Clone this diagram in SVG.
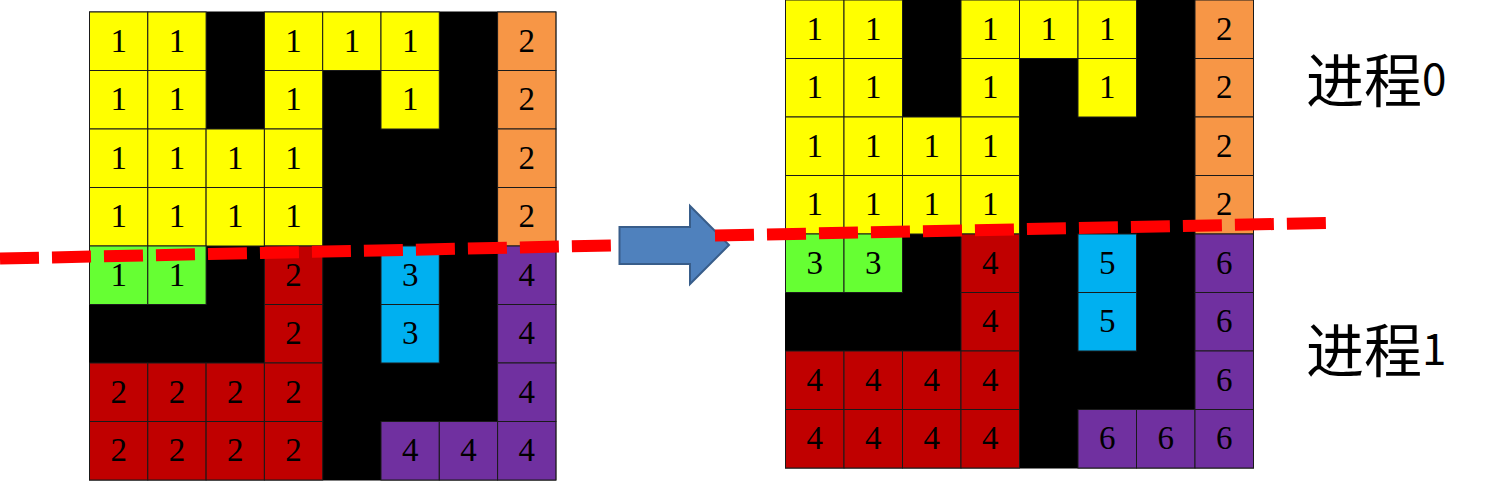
<svg xmlns="http://www.w3.org/2000/svg" width="1500" height="481" viewBox="0 0 1500 481">
<style>
.c rect{stroke:#1a1a1a;stroke-width:1}
.c text{font-family:"Liberation Serif",serif;font-size:33px;text-anchor:middle;fill:#000}
.Y{fill:#FFFF00}.O{fill:#F79646}.G{fill:#66FF33}.R{fill:#C00000}.B{fill:#00B0F0}.P{fill:#7030A0}
.bg{fill:#000;stroke:#000;stroke-width:1}
.cut{stroke:#FF0000;stroke-width:12;stroke-dasharray:39 13;fill:none}
.lbl{font-family:"Noto Sans CJK SC",sans-serif;font-size:58px;fill:#000}
.num{font-family:"Noto Sans CJK SC",sans-serif;fill:#000}
</style>
<g id="grid-left">
<rect class="bg" x="89.5" y="12" width="466.4" height="468"/>
<g id="L00" class="c" transform="translate(89.5,12)"><rect class="Y" width="58.3" height="58.5"/><text x="29.2" y="39.5">1</text></g>
<g id="L01" class="c" transform="translate(147.8,12)"><rect class="Y" width="58.3" height="58.5"/><text x="29.2" y="39.5">1</text></g>
<g id="L03" class="c" transform="translate(264.4,12)"><rect class="Y" width="58.3" height="58.5"/><text x="29.2" y="39.5">1</text></g>
<g id="L04" class="c" transform="translate(322.7,12)"><rect class="Y" width="58.3" height="58.5"/><text x="29.2" y="39.5">1</text></g>
<g id="L05" class="c" transform="translate(381,12)"><rect class="Y" width="58.3" height="58.5"/><text x="29.2" y="39.5">1</text></g>
<g id="L07" class="c" transform="translate(497.6,12)"><rect class="O" width="58.3" height="58.5"/><text x="29.2" y="39.5">2</text></g>
<g id="L10" class="c" transform="translate(89.5,70.5)"><rect class="Y" width="58.3" height="58.5"/><text x="29.2" y="39.5">1</text></g>
<g id="L11" class="c" transform="translate(147.8,70.5)"><rect class="Y" width="58.3" height="58.5"/><text x="29.2" y="39.5">1</text></g>
<g id="L13" class="c" transform="translate(264.4,70.5)"><rect class="Y" width="58.3" height="58.5"/><text x="29.2" y="39.5">1</text></g>
<g id="L15" class="c" transform="translate(381,70.5)"><rect class="Y" width="58.3" height="58.5"/><text x="29.2" y="39.5">1</text></g>
<g id="L17" class="c" transform="translate(497.6,70.5)"><rect class="O" width="58.3" height="58.5"/><text x="29.2" y="39.5">2</text></g>
<g id="L20" class="c" transform="translate(89.5,129)"><rect class="Y" width="58.3" height="58.5"/><text x="29.2" y="39.5">1</text></g>
<g id="L21" class="c" transform="translate(147.8,129)"><rect class="Y" width="58.3" height="58.5"/><text x="29.2" y="39.5">1</text></g>
<g id="L22" class="c" transform="translate(206.1,129)"><rect class="Y" width="58.3" height="58.5"/><text x="29.2" y="39.5">1</text></g>
<g id="L23" class="c" transform="translate(264.4,129)"><rect class="Y" width="58.3" height="58.5"/><text x="29.2" y="39.5">1</text></g>
<g id="L27" class="c" transform="translate(497.6,129)"><rect class="O" width="58.3" height="58.5"/><text x="29.2" y="39.5">2</text></g>
<g id="L30" class="c" transform="translate(89.5,187.5)"><rect class="Y" width="58.3" height="58.5"/><text x="29.2" y="39.5">1</text></g>
<g id="L31" class="c" transform="translate(147.8,187.5)"><rect class="Y" width="58.3" height="58.5"/><text x="29.2" y="39.5">1</text></g>
<g id="L32" class="c" transform="translate(206.1,187.5)"><rect class="Y" width="58.3" height="58.5"/><text x="29.2" y="39.5">1</text></g>
<g id="L33" class="c" transform="translate(264.4,187.5)"><rect class="Y" width="58.3" height="58.5"/><text x="29.2" y="39.5">1</text></g>
<g id="L37" class="c" transform="translate(497.6,187.5)"><rect class="O" width="58.3" height="58.5"/><text x="29.2" y="39.5">2</text></g>
<g id="L40" class="c" transform="translate(89.5,246)"><rect class="G" width="58.3" height="58.5"/><text x="29.2" y="39.5">1</text></g>
<g id="L41" class="c" transform="translate(147.8,246)"><rect class="G" width="58.3" height="58.5"/><text x="29.2" y="39.5">1</text></g>
<g id="L43" class="c" transform="translate(264.4,246)"><rect class="R" width="58.3" height="58.5"/><text x="29.2" y="39.5">2</text></g>
<g id="L45" class="c" transform="translate(381,246)"><rect class="B" width="58.3" height="58.5"/><text x="29.2" y="39.5">3</text></g>
<g id="L47" class="c" transform="translate(497.6,246)"><rect class="P" width="58.3" height="58.5"/><text x="29.2" y="39.5">4</text></g>
<g id="L53" class="c" transform="translate(264.4,304.5)"><rect class="R" width="58.3" height="58.5"/><text x="29.2" y="39.5">2</text></g>
<g id="L55" class="c" transform="translate(381,304.5)"><rect class="B" width="58.3" height="58.5"/><text x="29.2" y="39.5">3</text></g>
<g id="L57" class="c" transform="translate(497.6,304.5)"><rect class="P" width="58.3" height="58.5"/><text x="29.2" y="39.5">4</text></g>
<g id="L60" class="c" transform="translate(89.5,363)"><rect class="R" width="58.3" height="58.5"/><text x="29.2" y="39.5">2</text></g>
<g id="L61" class="c" transform="translate(147.8,363)"><rect class="R" width="58.3" height="58.5"/><text x="29.2" y="39.5">2</text></g>
<g id="L62" class="c" transform="translate(206.1,363)"><rect class="R" width="58.3" height="58.5"/><text x="29.2" y="39.5">2</text></g>
<g id="L63" class="c" transform="translate(264.4,363)"><rect class="R" width="58.3" height="58.5"/><text x="29.2" y="39.5">2</text></g>
<g id="L67" class="c" transform="translate(497.6,363)"><rect class="P" width="58.3" height="58.5"/><text x="29.2" y="39.5">4</text></g>
<g id="L70" class="c" transform="translate(89.5,421.5)"><rect class="R" width="58.3" height="58.5"/><text x="29.2" y="39.5">2</text></g>
<g id="L71" class="c" transform="translate(147.8,421.5)"><rect class="R" width="58.3" height="58.5"/><text x="29.2" y="39.5">2</text></g>
<g id="L72" class="c" transform="translate(206.1,421.5)"><rect class="R" width="58.3" height="58.5"/><text x="29.2" y="39.5">2</text></g>
<g id="L73" class="c" transform="translate(264.4,421.5)"><rect class="R" width="58.3" height="58.5"/><text x="29.2" y="39.5">2</text></g>
<g id="L75" class="c" transform="translate(381,421.5)"><rect class="P" width="58.3" height="58.5"/><text x="29.2" y="39.5">4</text></g>
<g id="L76" class="c" transform="translate(439.3,421.5)"><rect class="P" width="58.3" height="58.5"/><text x="29.2" y="39.5">4</text></g>
<g id="L77" class="c" transform="translate(497.6,421.5)"><rect class="P" width="58.3" height="58.5"/><text x="29.2" y="39.5">4</text></g>
</g>
<g id="grid-right">
<rect class="bg" x="785.5" y="0" width="468" height="468"/>
<g id="R00" class="c" transform="translate(785.5,0)"><rect class="Y" width="58.5" height="58.5"/><text x="29.2" y="39.5">1</text></g>
<g id="R01" class="c" transform="translate(844,0)"><rect class="Y" width="58.5" height="58.5"/><text x="29.2" y="39.5">1</text></g>
<g id="R03" class="c" transform="translate(961,0)"><rect class="Y" width="58.5" height="58.5"/><text x="29.2" y="39.5">1</text></g>
<g id="R04" class="c" transform="translate(1019.5,0)"><rect class="Y" width="58.5" height="58.5"/><text x="29.2" y="39.5">1</text></g>
<g id="R05" class="c" transform="translate(1078,0)"><rect class="Y" width="58.5" height="58.5"/><text x="29.2" y="39.5">1</text></g>
<g id="R07" class="c" transform="translate(1195,0)"><rect class="O" width="58.5" height="58.5"/><text x="29.2" y="39.5">2</text></g>
<g id="R10" class="c" transform="translate(785.5,58.5)"><rect class="Y" width="58.5" height="58.5"/><text x="29.2" y="39.5">1</text></g>
<g id="R11" class="c" transform="translate(844,58.5)"><rect class="Y" width="58.5" height="58.5"/><text x="29.2" y="39.5">1</text></g>
<g id="R13" class="c" transform="translate(961,58.5)"><rect class="Y" width="58.5" height="58.5"/><text x="29.2" y="39.5">1</text></g>
<g id="R15" class="c" transform="translate(1078,58.5)"><rect class="Y" width="58.5" height="58.5"/><text x="29.2" y="39.5">1</text></g>
<g id="R17" class="c" transform="translate(1195,58.5)"><rect class="O" width="58.5" height="58.5"/><text x="29.2" y="39.5">2</text></g>
<g id="R20" class="c" transform="translate(785.5,117)"><rect class="Y" width="58.5" height="58.5"/><text x="29.2" y="39.5">1</text></g>
<g id="R21" class="c" transform="translate(844,117)"><rect class="Y" width="58.5" height="58.5"/><text x="29.2" y="39.5">1</text></g>
<g id="R22" class="c" transform="translate(902.5,117)"><rect class="Y" width="58.5" height="58.5"/><text x="29.2" y="39.5">1</text></g>
<g id="R23" class="c" transform="translate(961,117)"><rect class="Y" width="58.5" height="58.5"/><text x="29.2" y="39.5">1</text></g>
<g id="R27" class="c" transform="translate(1195,117)"><rect class="O" width="58.5" height="58.5"/><text x="29.2" y="39.5">2</text></g>
<g id="R30" class="c" transform="translate(785.5,175.5)"><rect class="Y" width="58.5" height="58.5"/><text x="29.2" y="39.5">1</text></g>
<g id="R31" class="c" transform="translate(844,175.5)"><rect class="Y" width="58.5" height="58.5"/><text x="29.2" y="39.5">1</text></g>
<g id="R32" class="c" transform="translate(902.5,175.5)"><rect class="Y" width="58.5" height="58.5"/><text x="29.2" y="39.5">1</text></g>
<g id="R33" class="c" transform="translate(961,175.5)"><rect class="Y" width="58.5" height="58.5"/><text x="29.2" y="39.5">1</text></g>
<g id="R37" class="c" transform="translate(1195,175.5)"><rect class="O" width="58.5" height="58.5"/><text x="29.2" y="39.5">2</text></g>
<g id="R40" class="c" transform="translate(785.5,234)"><rect class="G" width="58.5" height="58.5"/><text x="29.2" y="39.5">3</text></g>
<g id="R41" class="c" transform="translate(844,234)"><rect class="G" width="58.5" height="58.5"/><text x="29.2" y="39.5">3</text></g>
<g id="R43" class="c" transform="translate(961,234)"><rect class="R" width="58.5" height="58.5"/><text x="29.2" y="39.5">4</text></g>
<g id="R45" class="c" transform="translate(1078,234)"><rect class="B" width="58.5" height="58.5"/><text x="29.2" y="39.5">5</text></g>
<g id="R47" class="c" transform="translate(1195,234)"><rect class="P" width="58.5" height="58.5"/><text x="29.2" y="39.5">6</text></g>
<g id="R53" class="c" transform="translate(961,292.5)"><rect class="R" width="58.5" height="58.5"/><text x="29.2" y="39.5">4</text></g>
<g id="R55" class="c" transform="translate(1078,292.5)"><rect class="B" width="58.5" height="58.5"/><text x="29.2" y="39.5">5</text></g>
<g id="R57" class="c" transform="translate(1195,292.5)"><rect class="P" width="58.5" height="58.5"/><text x="29.2" y="39.5">6</text></g>
<g id="R60" class="c" transform="translate(785.5,351)"><rect class="R" width="58.5" height="58.5"/><text x="29.2" y="39.5">4</text></g>
<g id="R61" class="c" transform="translate(844,351)"><rect class="R" width="58.5" height="58.5"/><text x="29.2" y="39.5">4</text></g>
<g id="R62" class="c" transform="translate(902.5,351)"><rect class="R" width="58.5" height="58.5"/><text x="29.2" y="39.5">4</text></g>
<g id="R63" class="c" transform="translate(961,351)"><rect class="R" width="58.5" height="58.5"/><text x="29.2" y="39.5">4</text></g>
<g id="R67" class="c" transform="translate(1195,351)"><rect class="P" width="58.5" height="58.5"/><text x="29.2" y="39.5">6</text></g>
<g id="R70" class="c" transform="translate(785.5,409.5)"><rect class="R" width="58.5" height="58.5"/><text x="29.2" y="39.5">4</text></g>
<g id="R71" class="c" transform="translate(844,409.5)"><rect class="R" width="58.5" height="58.5"/><text x="29.2" y="39.5">4</text></g>
<g id="R72" class="c" transform="translate(902.5,409.5)"><rect class="R" width="58.5" height="58.5"/><text x="29.2" y="39.5">4</text></g>
<g id="R73" class="c" transform="translate(961,409.5)"><rect class="R" width="58.5" height="58.5"/><text x="29.2" y="39.5">4</text></g>
<g id="R75" class="c" transform="translate(1078,409.5)"><rect class="P" width="58.5" height="58.5"/><text x="29.2" y="39.5">6</text></g>
<g id="R76" class="c" transform="translate(1136.5,409.5)"><rect class="P" width="58.5" height="58.5"/><text x="29.2" y="39.5">6</text></g>
<g id="R77" class="c" transform="translate(1195,409.5)"><rect class="P" width="58.5" height="58.5"/><text x="29.2" y="39.5">6</text></g>
</g>
<g id="connectors">
<polygon id="arrow" points="619.5,227 690,227 690,206 729,245 690,284 690,264 619.5,264" fill="#4F81BD" stroke="#385D8A" stroke-width="2" stroke-linejoin="miter"/>
<line class="cut" x1="0" y1="258.5" x2="611" y2="245.5"/>
<line class="cut" x1="715" y1="235.5" x2="1326" y2="223"/>
</g>
<g id="label-p0"><text class="lbl" x="1306" y="102">进程</text><text class="num" font-size="44" x="1422" y="95">0</text></g>
<g id="label-p1"><text class="lbl" x="1306" y="372">进程</text><text class="num" font-size="44" x="1422" y="365">1</text></g>
</svg>
